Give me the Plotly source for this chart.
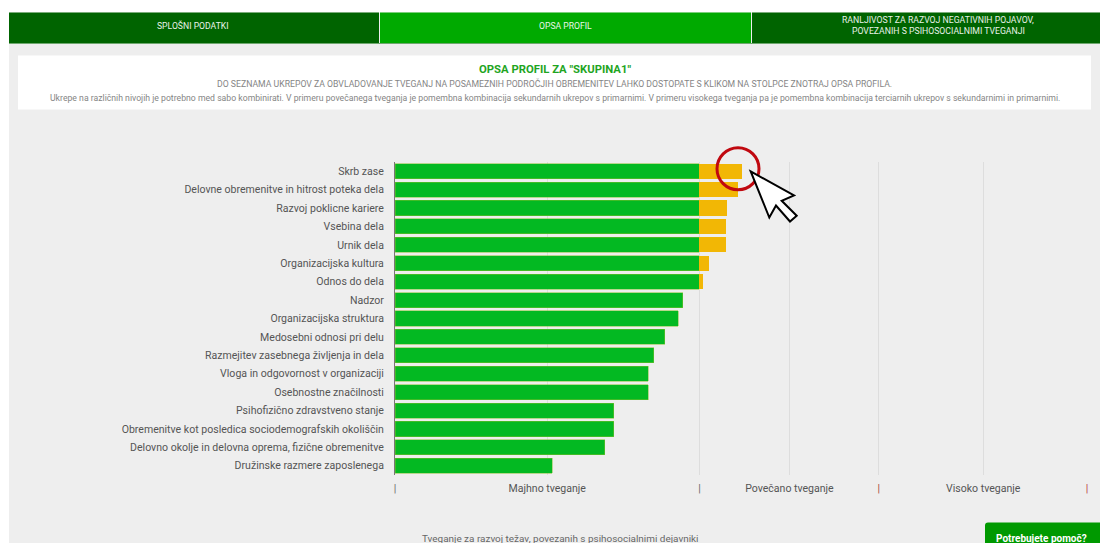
import plotly.graph_objects as go

categories = ["Skrb zase", "Delovne obremenitve in hitrost poteka dela", "Razvoj poklicne kariere", "Vsebina dela",
              "Urnik dela", "Organizacijska kultura", "Odnos do dela", "Nadzor", "Organizacijska struktura",
              "Medosebni odnosi pri delu", "Razmejitev zasebnega življenja in dela",
              "Vloga in odgovornost v organizaciji", "Osebnostne značilnosti", "Psihofizično zdravstveno stanje",
              "Obremenitve kot posledica sociodemografskih okoliščin",
              "Delovno okolje in delovna oprema, fizične obremenitve", "Družinske razmere zaposlenega"]
majhno = [44, 44, 44, 44, 44, 44, 44, 41.6, 40.9, 39.0, 37.4, 36.6, 36.6, 31.6, 31.6, 30.3, 22.7]
povecano = [6.2, 5.6, 4.0, 3.8, 3.8, 1.4, 0.5, 0, 0, 0, 0, 0, 0, 0, 0, 0, 0]

tick_vals = [0, 22, 44, 57, 69.9, 85, 100]
tick_text = ["<span style='color:#666'>|</span>", "Majhno tveganje", "<span style='color:#666'>|</span>",
             "Povečano tveganje", "<span style='color:#a8483c'>|</span>", "Visoko tveganje",
             "<span style='color:#b8323c'>|</span>"]

L, R, T, B = 395.0, 1087.0, 162.3, 474.7
W, H = 1100, 543
def px(x): return (x - L) / (R - L)
def py(y): return (B - y) / (B - T)

def rect(x0, y0, x1, y1, color, line=None):
    return dict(type="rect", xref="paper", yref="paper", x0=px(x0), x1=px(x1), y0=py(y1), y1=py(y0),
                fillcolor=color, line=dict(width=0, color=color), layer="below")

DARK = "#006400"
LIGHT = "#00aa00"
shapes = [
    rect(9, 13, 1100, 543, "#eeeeee"),
    rect(18, 56, 1091, 110, "#ffffff"),
    rect(9, 13, 379, 43.5, DARK),
    rect(380, 13, 751, 43.5, LIGHT),
    rect(752, 13, 1100, 43.5, DARK),
    rect(9, 43.5, 1100, 44.5, "#6fa86f"),
]
# help button (rounded top-left)
shapes.append(dict(type="path", xref="paper", yref="paper", layer="below", fillcolor="#009900", line=dict(width=0),
                   path=f"M {px(985)} {py(543)} L {px(985)} {py(525)} Q {px(985)} {py(522)} {px(988)} {py(522)} "
                        f"L {px(1100)} {py(522)} L {px(1100)} {py(543)} Z"))
# red circle and cursor overlay
shapes.append(dict(type="circle", xref="paper", yref="paper", x0=px(717), x1=px(759), y0=py(190), y1=py(148),
                   line=dict(color="#c0080f", width=3), fillcolor="rgba(0,0,0,0)", layer="above"))
cursor = [(750.7, 171.7), (794, 195.7), (781.7, 201), (796.7, 216), (790, 221.7), (776, 205.7), (769.3, 217.7)]
shapes.append(dict(type="path", xref="paper", yref="paper", layer="above", fillcolor="#ffffff",
                   line=dict(color="#000000", width=2),
                   path="M " + " L ".join(f"{px(a)} {py(b)}" for a, b in cursor) + " Z"))

def note(x, y, text, size, color, bold=False, anchor="center"):
    return dict(xref="paper", yref="paper", x=px(x), y=py(y), text=f"<b>{text}</b>" if bold else text,
                showarrow=False, xanchor=anchor, yanchor="middle",
                font=dict(family="Roboto", size=size, color=color))

annotations = [
    note(193, 26.5, "SPLOŠNI PODATKI", 8.65, "#e8f2e8"),
    note(565.5, 26.5, "OPSA PROFIL", 8.65, "#e8f6e8"),
    note(938, 21, "RANLJIVOST ZA RAZVOJ NEGATIVNIH POJAVOV,", 8.7, "#e8f2e8"),
    note(938, 32, "POVEZANIH S PSIHOSOCIALNIMI TVEGANJI", 8.7, "#e8f2e8"),
    note(554.5, 70, 'OPSA PROFIL ZA "SKUPINA1"', 11.3, "#1fa51f", bold=True),
    note(554.5, 84, "DO SEZNAMA UKREPOV ZA OBVLADOVANJE TVEGANJ NA POSAMEZNIH PODROČJIH OBREMENITEV LAHKO DOSTOPATE S KLIKOM NA STOLPCE ZNOTRAJ OPSA PROFILA.", 8.7, "#858585"),
    note(554.5, 98, "Ukrepe na različnih nivojih je potrebno med sabo kombinirati. V primeru povečanega tveganja je pomembna kombinacija sekundarnih ukrepov s primarnimi. V primeru visokega tveganja pa je pomembna kombinacija terciarnih ukrepov s sekundarnimi in primarnimi.", 8.68, "#858585"),
    note(560.5, 538, "Tveganje za razvoj težav, povezanih s psihosocialnimi dejavniki", 9.93, "#666666"),
    note(1041, 538, "Potrebujete pomoč?", 10, "#ffffff", bold=True),
]

fig = go.Figure()
fig.add_bar(y=categories, x=majhno, orientation="h", marker=dict(color="#03b922", line=dict(width=0.5, color="#7fc02a")))
fig.add_bar(y=categories, x=povecano, orientation="h", marker=dict(color="#f2b705", line=dict(width=0)))
fig.update_layout(
    barmode="stack", bargap=0.18, showlegend=False, width=W, height=H,
    margin=dict(l=L, r=W - R, t=T, b=H - B, pad=0),
    paper_bgcolor="#ffffff", plot_bgcolor="rgba(0,0,0,0)",
    font=dict(family="Roboto", size=10.5, color="#555555"),
    shapes=shapes, annotations=annotations,
    xaxis=dict(range=[0, 100], tickmode="array", tickvals=tick_vals, ticktext=tick_text, showgrid=True,
               gridcolor="#dddddd", gridwidth=1, zeroline=False, showline=False, ticks="outside", ticklen=3,
               tickcolor="rgba(0,0,0,0)", tickfont=dict(family="Roboto", size=10.55, color="#555555")),
    yaxis=dict(range=[16.5, -0.5], type="category", showgrid=False, zeroline=False, showline=True, linecolor="#777777",
               linewidth=1, ticks="outside", ticklen=8, tickcolor="rgba(0,0,0,0)",
               tickfont=dict(family="Roboto", size=10.55, color="#555555")),
)
fig.write_html("out.html", config=dict(displayModeBar=False),
               post_script="document.body.style.margin='0';document.body.style.overflow='hidden';")
